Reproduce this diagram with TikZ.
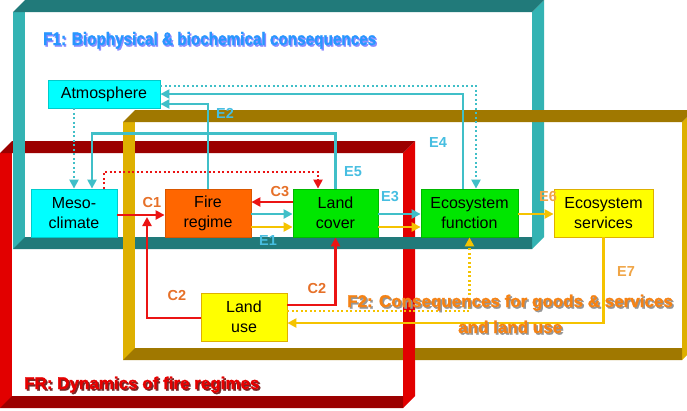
\documentclass[tikz,border=0pt]{standalone}
\usepackage{fontspec}
\usepackage{graphicx}
\setmainfont{Liberation Sans}
\usetikzlibrary{arrows.meta}
\definecolor{tealD}{RGB}{33,122,122}
\definecolor{tealL}{RGB}{51,179,179}
\definecolor{goldD}{RGB}{160,120,0}
\definecolor{goldL}{RGB}{222,176,0}
\definecolor{redD}{RGB}{155,0,0}
\definecolor{redL}{RGB}{226,0,0}
\definecolor{lnTeal}{RGB}{64,191,200}
\definecolor{lnRed}{RGB}{235,20,20}
\definecolor{lnGold}{RGB}{245,195,0}
\definecolor{boxCyan}{RGB}{0,255,255}
\definecolor{boxOrange}{RGB}{255,102,0}
\definecolor{boxGreen}{RGB}{0,230,0}
\definecolor{boxYellow}{RGB}{255,255,0}
\definecolor{labC}{RGB}{230,112,40}
\definecolor{labE}{RGB}{70,190,225}
\definecolor{labEo}{RGB}{240,165,70}
\definecolor{fOneFg}{RGB}{40,150,255}
\definecolor{fOneSh}{RGB}{140,140,255}
\definecolor{fTwoFg}{RGB}{245,130,20}
\definecolor{fTwoSh}{RGB}{150,150,150}
\definecolor{frFg}{RGB}{230,0,0}
\definecolor{frSh}{RGB}{120,40,40}
% L T R B dark light  (thickness 12)
\newcommand{\threedframe}[6]{%
  \fill[#6] (#1,#2+12) rectangle (#1+12,#4);
  \fill[#6] (#3-12,#2+12) -- (#3,#2) -- (#3,#4-12) -- (#3-12,#4) -- cycle;
  \fill[#5] (#1,#2+12) -- (#1+12,#2) -- (#3,#2) -- (#3-12,#2+12) -- cycle;
  \fill[#5] (#1,#4) -- (#1+12,#4-12) -- (#3-12,#4-12) -- (#3-12,#4) -- cycle;
}
% shadowed text: {shadow colour}{front colour}{text}
\newcommand{\shadowed}[3]{%
  \makebox[0pt][l]{\hspace*{1.6pt}\raisebox{-1.6pt}{\textcolor{#1}{#3}}}%
  \textcolor{#2}{#3}}
\begin{document}
\begin{tikzpicture}[x=1pt,y=-1pt,
  box/.style={draw, line width=0.8pt, inner sep=0pt, align=center,
    font=\fontsize{16}{20}\selectfont, text=black},
  tip/.style={-{Triangle[length=9pt,width=9pt]}},
  tl/.style={draw=lnTeal, line width=2.5pt},
  rl/.style={draw=lnRed, line width=2.5pt},
  gl/.style={draw=lnGold, line width=2.5pt},
  dots/.style={line width=2.2pt, dash pattern=on 2pt off 2.5pt},
  labc/.style={text=labC, font=\bfseries\fontsize{14.5}{15}\selectfont, inner sep=0pt},
  labe/.style={text=labE, font=\bfseries\fontsize{14.5}{15}\selectfont, inner sep=0pt},
  labo/.style={text=labEo, font=\bfseries\fontsize{14.5}{15}\selectfont, inner sep=0pt},
  ttl/.style={font=\bfseries\addfontfeature{FakeBold=1.6}\fontsize{17}{20}\selectfont, anchor=base west, inner sep=0pt}
]
\useasboundingbox (0,0) rectangle (687,410);
\fill[white] (0,0) rectangle (687,410);
\begin{scope}
\clip (0,0) rectangle (687,410);
% FR frame
\threedframe{0}{141}{415}{408}{redD}{redL}
% F1 frame
\threedframe{13}{0}{544}{249}{tealD}{tealL}
% F2 frame
\threedframe{123}{110}{694}{360}{goldD}{goldL}
% red bar passes over F2 bottom bar
\fill[redL] (403,347) rectangle (415,361);
\end{scope}

% boxes
\node[box, fill=boxCyan, draw=boxCyan!80!black, minimum width=112pt, minimum height=28pt] (atm) at (104,94) {Atmosphere};
\node[box, fill=boxCyan, draw=boxCyan!80!black, minimum width=86pt, minimum height=48pt] (meso) at (74,213) {Meso-\\climate};
\node[box, fill=boxOrange, draw=boxOrange!85!black, minimum width=86pt, minimum height=48pt] (fire) at (208,213) {Fire\\regime};
\node[box, fill=boxGreen, draw=boxGreen!80!black, minimum width=85pt, minimum height=48pt] (lc) at (335.5,213) {Land\\cover};
\node[box, fill=boxGreen, draw=boxGreen!80!black, minimum width=97pt, minimum height=48pt] (ef) at (469.5,213) {Ecosystem\\function};
\node[box, fill=boxYellow, draw=goldL, minimum width=99pt, minimum height=48pt] (es) at (603.5,213) {Ecosystem\\services};
\node[box, fill=boxYellow, draw=goldL, minimum width=86pt, minimum height=48pt] (lu) at (244,317) {Land\\use};
\coordinate (cjoin) at (147,217);

% teal connectors
\draw[tl, dots, tip] (atm.south -| meso.north) -- (meso.north);
\draw[tl, tip] (lc.north) -- ++(0,-55) -| ([xshift=18pt]meso.north);
\draw[tl, tip] (fire.north) |- ([yshift=-10pt]atm.east);
\draw[tl, tip] ([xshift=-6.5pt]ef.north) |- (atm.east);
\draw[tl, dots, tip] ([yshift=8pt]atm.east) -| ([xshift=6.5pt]ef.north);
\draw[tl, tip] ([yshift=-1pt]fire.east) -- ([yshift=-1pt]lc.west);
\draw[tl, tip] ([yshift=-1pt]lc.east) -- ([yshift=-1pt]ef.west);
% gold connectors
\draw[gl, tip] ([yshift=-14pt]fire.east) -- ([yshift=-14pt]lc.west);
\draw[gl, tip] ([yshift=-14pt]lc.east) -- ([yshift=-14pt]ef.west);
\draw[gl, tip] ([yshift=-1pt]ef.east) -- ([yshift=-1pt]es.west);
\draw[gl, tip] (es.south) |- ([yshift=-6pt]lu.east);
\draw[gl, dots, tip] ([yshift=6pt]lu.east) -| (ef.south);
% red connectors
\draw[rl, tip] ([yshift=11pt]lc.west) -- ([yshift=11pt]fire.east);
\draw[rl, tip] ([yshift=-2pt]meso.east) -- ([yshift=-2pt]fire.west);
\draw[rl, tip] ([yshift=-1pt]lu.west) -| (cjoin);
\draw[rl, tip] ([yshift=12pt]lu.east) -| (lc.south);
\draw[rl, dots, tip] ([xshift=30pt]meso.north) -- ++(0,-17) -| ([xshift=-17.5pt]lc.north);

% labels
\node[labc] (lc1) at (152,203) {C1};
\node[labc] (lc3) at (280,192) {C3};
\node[labc] (lc2a) at (177,296) {C2};
\node[labc] (lc2b) at (317,289) {C2};
\node[labe] (le1) at (268,241) {E1};
\node[labe] (le2) at (225,113) {E2};
\node[labe] (le3) at (390,197) {E3};
\node[labe] (le4) at (438,143) {E4};
\node[labe] (le5) at (353,172) {E5};
\node[labo] (le6) at (548,197) {E6};
\node[labo] (le7) at (626,272) {E7};

% titles
\node[ttl, font=\bfseries\addfontfeature{FakeBold=1.6}\fontsize{18}{20}\selectfont] (t1) at (43,45) {\scalebox{0.85}[1]{\shadowed{fOneSh}{fOneFg}{F1: Biophysical \& biochemical consequences}}};
\node[ttl] (t2) at (347,307) {\shadowed{fTwoSh}{fTwoFg}{F2: Consequences for goods \& services}};
\node[ttl] (t2b) at (458,333) {\shadowed{fTwoSh}{fTwoFg}{and land use}};
\node[ttl] (t3) at (24,389) {\shadowed{frSh}{frFg}{FR: Dynamics of fire regimes}};
\end{tikzpicture}
\end{document}
